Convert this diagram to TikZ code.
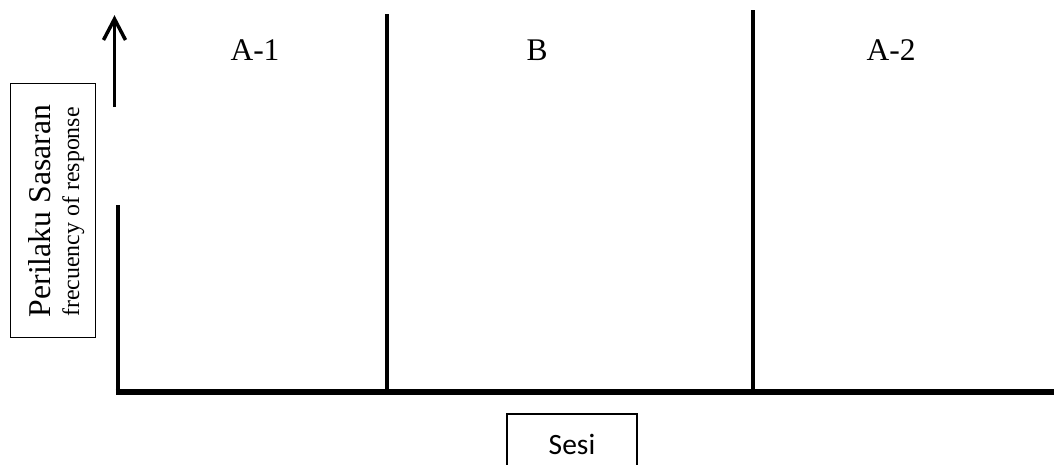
\documentclass[tikz,border=0pt]{standalone}
\usepackage{fontspec}
\setmainfont{Liberation Serif}
\newfontfamily\sesifont{Carlito}
\begin{document}
\begin{tikzpicture}[x=1pt,y=-1pt,
  axis/.style={line width=6pt},
  divider/.style={line width=3.5pt},
  phase/.style={anchor=base,font=\fontsize{31.5}{36}\selectfont},
  framebox/.style={draw,line width=1pt}]
\useasboundingbox[fill=white] (0,0) rectangle (1054,464);
% axes
\coordinate (origin) at (118,392);
\coordinate (xend) at (1054,392);
\coordinate (ylow) at (118,205);
\coordinate (arrbot) at (114.5,107);
\coordinate (arrtop) at (114.5,19);
\draw[axis] (115.5,392) -- (xend);
\draw[line width=4.5pt] (origin) -- (ylow);
\draw[line width=3.5pt] (arrbot) -- (arrtop);
\draw[line width=3.5pt,line join=miter] ([shift={(-11,21)}]arrtop) -- (arrtop) -- ([shift={(11,21)}]arrtop);
% dividers
\coordinate (d1b) at (387,392);
\coordinate (d1t) at (387,14);
\coordinate (d2b) at (753,392);
\coordinate (d2t) at (753,10);
\draw[divider] (d1b) -- (d1t);
\draw[divider] (d2b) -- (d2t);
% phase labels
\node[phase] (a1) at (255,60) {A-1};
\node[phase] (b) at (537,60) {B};
\node[phase] (a2) at (891,60) {A-2};
% y label box
\node[framebox,minimum width=85pt,minimum height=254pt,inner sep=0pt] (ybox) at (52.5,210) {};
\node[rotate=90,anchor=base,font=\fontsize{31.7}{36}\selectfont] (ylab1) at (50,211) {Perilaku Sasaran};
\node[rotate=90,anchor=base,font=\fontsize{23.9}{28}\selectfont] (ylab2) at (79,212) {frecuency of response};
% x label box
\node[framebox,line width=1.5pt,minimum width=130pt,minimum height=80pt,inner sep=0pt] (xbox) at (572,454) {};
\node[anchor=base,font=\sesifont\fontsize{29.5}{34}\selectfont] (xlab) at (572,454) {Sesi};
\end{tikzpicture}
\end{document}
